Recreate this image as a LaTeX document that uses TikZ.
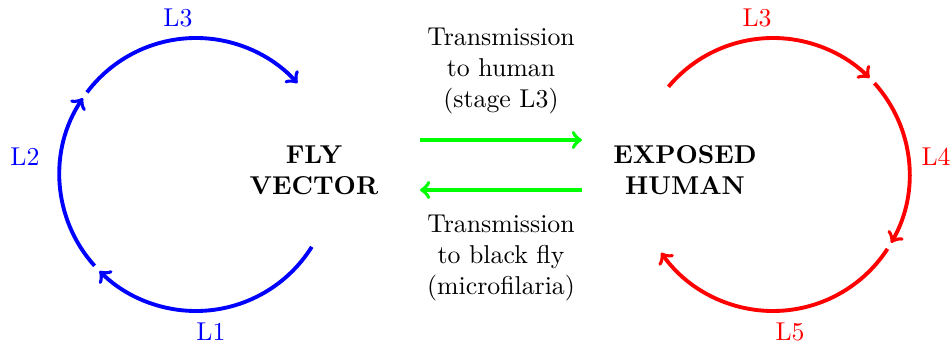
\documentclass[tikz,border=0pt]{standalone}
\usetikzlibrary{calc}
\begin{document}
\begin{tikzpicture}[x=0.3876pt,y=0.3876pt,
  cyc/.style={line width=1.5pt,->},
  tr/.style={line width=1.5pt,->,green},
  lbl/.style={inner sep=0pt},
  big/.style={font=\bfseries,align=center,inner sep=0pt},
  txt/.style={align=center,inner sep=0pt}]
\useasboundingbox (0,0) rectangle (951,346);
\coordinate (cb) at (196,171.5);
\coordinate (cr) at (773,171.5);
% blue cycle
\draw[cyc,blue] ($(cb)+(-32:136.5)$) arc (-32:-135:136.5);
\draw[cyc,blue] ($(cb)+(-138:136.5)$) arc (-138:-214:136.5);
\draw[cyc,blue] ($(cb)+(-217:136.5)$) arc (-217:-318:136.5);
% red cycle
\draw[cyc,red] ($(cr)+(140:136.5)$) arc (140:45:136.5);
\draw[cyc,red] ($(cr)+(42:136.5)$) arc (42:-30:136.5);
\draw[cyc,red] ($(cr)+(-33:136.5)$) arc (-33:-145:136.5);
% labels
\node[lbl,blue] (bl3) at (178,328) {L3};
\node[lbl,blue] (bl2) at (25,189) {L2};
\node[lbl,blue] (bl1) at (211,14) {L1};
\node[lbl,red] (rl3) at (757,328) {L3};
\node[lbl,red] (rl4) at (936,189) {L4};
\node[lbl,red] (rl5) at (790,14) {L5};
% main nodes
\node[big] (fly) at (314,176) {FLY\\VECTOR};
\node[big] (human) at (685,176) {EXPOSED\\HUMAN};
\node[txt] (t1) at (501,275) {Transmission\\to human\\(stage L3)};
\node[txt] (t2) at (501,88) {Transmission\\to black fly\\(microfilaria)};
% transmission arrows
\coordinate (a1) at (420,206);
\coordinate (a2) at (582,206);
\coordinate (b1) at (582,156);
\coordinate (b2) at (420,156);
\draw[tr] (a1) -- (a2);
\draw[tr] (b1) -- (b2);
\end{tikzpicture}
\end{document}
